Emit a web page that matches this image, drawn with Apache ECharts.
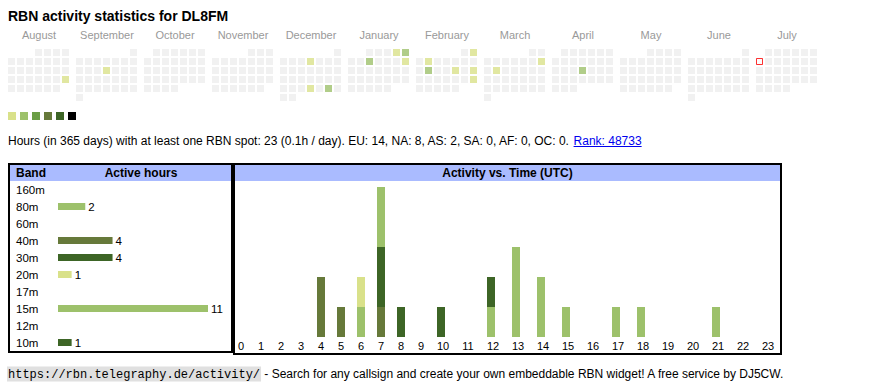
<!DOCTYPE html>
<html><head><meta charset="utf-8">
<script src="https://cdn.jsdelivr.net/npm/echarts@6/dist/echarts.min.js"></script>
<style>html,body{margin:0;padding:0;background:#fff}#c{width:870px;height:390px}</style>
</head><body><div id="c"></div>
<script>
// ---------- data ----------
const calendarMonths = ['2024-08','2024-09','2024-10','2024-11','2024-12','2025-01','2025-02','2025-03','2025-04','2025-05','2025-06','2025-07'];
const monthNames = ['August','September','October','November','December','January','February','March','April','May','June','July'];
const activeDays = ['2024-08-25','2024-09-12','2024-12-05','2024-12-26','2024-12-28','2025-01-04','2025-01-05','2025-01-08','2025-01-12','2025-02-02','2025-02-04','2025-02-11','2025-02-14','2025-02-16','2025-02-23','2025-03-09','2025-03-11','2025-04-17'];
const activeDayHours = [1,1,1,1,2,1,2,2,1,1,1,2,1,1,1,1,1,2];
const todayDate = '2025-07-07';
const levelColors = ['#d9e18a','#9dc16b','#6b9e45','#66793a','#3d6526','#000000'];

const bands = ['160m','80m','60m','40m','30m','20m','17m','15m','12m','10m'];
const bandHours = [0,2,0,4,4,1,0,11,0,1];
const bandColors = ['#6b9e45','#9dc16b','#66793a','#66793a','#3d6526','#d9e18a','#6b9e45','#9dc16b','#66793a','#3d6526'];

const hourLabels = ['0','1','2','3','4','5','6','7','8','9','10','11','12','13','14','15','16','17','18','19','20','21','22','23'];
const hourly160m = [0,0,0,0,0,0,0,0,0,0,0,0,0,0,0,0,0,0,0,0,0,0,0,0];
const hourly80m  = [0,0,0,0,0,0,1,0,0,0,0,0,1,0,0,0,0,0,0,0,0,0,0,0];
const hourly60m  = [0,0,0,0,0,0,0,0,0,0,0,0,0,0,0,0,0,0,0,0,0,0,0,0];
const hourly40m  = [0,0,0,0,2,1,0,1,0,0,0,0,0,0,0,0,0,0,0,0,0,0,0,0];
const hourly30m  = [0,0,0,0,0,0,0,2,1,0,1,0,0,0,0,0,0,0,0,0,0,0,0,0];
const hourly20m  = [0,0,0,0,0,0,1,0,0,0,0,0,0,0,0,0,0,0,0,0,0,0,0,0];
const hourly17m  = [0,0,0,0,0,0,0,0,0,0,0,0,0,0,0,0,0,0,0,0,0,0,0,0];
const hourly15m  = [0,0,0,0,0,0,0,2,0,0,0,0,0,3,2,1,0,1,1,0,0,1,0,0];
const hourly12m  = [0,0,0,0,0,0,0,0,0,0,0,0,0,0,0,0,0,0,0,0,0,0,0,0];
const hourly10m  = [0,0,0,0,0,0,0,0,0,0,0,0,1,0,0,0,0,0,0,0,0,0,0,0];
const hourlyByBand = [hourly160m,hourly80m,hourly60m,hourly40m,hourly30m,hourly20m,hourly17m,hourly15m,hourly12m,hourly10m];

const totalHours = 23;
const perDay = '0.1h / day';
const continents = ['EU','NA','AS','SA','AF','OC'];
const continentHours = [14,8,2,0,0,0];
const rankText = 'Rank: 48733';
const callsign = 'DL8FM';

// ---------- layout ----------
const FONT = 'Arial, "Liberation Sans", sans-serif';
const MONO = '"Liberation Mono", "Courier New", monospace';
const calLeft = i => 7 + 68 * i;
const calTop = 48;

function pad(n){return n < 10 ? '0' + n : '' + n;}
function monthDays(ym){
  const y = +ym.slice(0,4), m = +ym.slice(5,7);
  const n = new Date(Date.UTC(y, m, 0)).getUTCDate();
  const out = [];
  for (let d = 1; d <= n; d++) out.push(ym + '-' + pad(d));
  return out;
}
const activeMap = {};
activeDays.forEach((d,i)=>{activeMap[d] = activeDayHours[i];});

const calendars = calendarMonths.map((ym,i)=>({
  orient:'vertical', range: ym, left: calLeft(i), top: calTop, cellSize:[9,9],
  itemStyle:{color:'transparent', borderWidth:0}, splitLine:{show:false},
  dayLabel:{show:false, firstDay:1}, monthLabel:{show:false}, yearLabel:{show:false}, silent:true
}));

const series = [];
calendarMonths.forEach((ym,i)=>{
  series.push({
    type:'scatter', coordinateSystem:'calendar', calendarIndex:i, symbol:'rect', symbolSize:7, silent:true,
    data: monthDays(ym).map(d=>[d, activeMap[d] || 0])
  });
});
series.push({
  type:'scatter', coordinateSystem:'calendar', calendarIndex:11, symbol:'rect', symbolSize:6, silent:true, z:5,
  itemStyle:{color:'#ffffff', borderColor:'#ff0000', borderWidth:1},
  data:[[todayDate, 0]]
});
// band table
series.push({
  type:'bar', xAxisIndex:0, yAxisIndex:0, barWidth:7, silent:true,
  data: bandHours.map((v,i)=>({value:v, itemStyle:{color:bandColors[i]}})),
  label:{show:true, position:'right', distance:3, fontSize:11.5, fontFamily:FONT, color:'#000',
    formatter:p=> p.value > 0 ? String(p.value) : ''}
});
// hourly stacked bars, two grids (single-digit and two-digit hour columns)
bands.forEach((b,bi)=>{
  series.push({type:'bar', name:b, xAxisIndex:1, yAxisIndex:1, stack:'a', barWidth:8, silent:true,
    itemStyle:{color:bandColors[bi]}, data: hourlyByBand[bi].slice(0,10)});
  series.push({type:'bar', name:b, xAxisIndex:2, yAxisIndex:2, stack:'b', barWidth:8, silent:true,
    itemStyle:{color:bandColors[bi]}, data: hourlyByBand[bi].slice(10)});
});

// ---------- texts ----------
const prefix = 'Hours (in 365 days) with at least one RBN spot: ' + totalHours + ' (' + perDay + '). ' +
  continents.map((c,i)=>c + ': ' + continentHours[i]).join(', ') + '. ';
const mctx = document.createElement('canvas').getContext('2d');
mctx.font = '12px ' + FONT;
const prefixW = mctx.measureText(prefix).width;
const rankW = mctx.measureText(rankText).width;

const graphics = [];
graphics.push({type:'text', style:{text:'RBN activity statistics for ' + callsign, x:8, y:16, fontSize:14, fontWeight:'bold', fontFamily:FONT, fill:'#000', verticalAlign:'middle'}});
monthNames.forEach((n,i)=>graphics.push({type:'text', style:{text:n, x:calLeft(i)+32, y:35, align:'center', verticalAlign:'middle', fontSize:11, fontFamily:FONT, fill:'#999'}}));
graphics.push({type:'text', style:{text:prefix, x:8, y:141, verticalAlign:'middle', fontSize:12, fontFamily:FONT, fill:'#000'}});
graphics.push({type:'text', style:{text:rankText, x:8+prefixW, y:141, verticalAlign:'middle', fontSize:12, fontFamily:FONT, fill:'#0000ee'}});
graphics.push({type:'line', shape:{x1:8+prefixW, y1:146.5, x2:8+prefixW+rankW, y2:146.5}, style:{stroke:'#0000ee', lineWidth:1}});
// table box
graphics.push({type:'rect', shape:{x:10,y:165,width:221,height:16}, style:{fill:'#aabbff'}});
graphics.push({type:'rect', shape:{x:9,y:164,width:223,height:188}, style:{fill:'none', stroke:'#000', lineWidth:2}, z:10});
graphics.push({type:'text', style:{text:'Band', x:16, y:173, verticalAlign:'middle', fontSize:12, fontWeight:'bold', fontFamily:FONT, fill:'#000'}});
graphics.push({type:'text', style:{text:'Active hours', x:141, y:173, align:'center', verticalAlign:'middle', fontSize:12, fontWeight:'bold', fontFamily:FONT, fill:'#000'}});
// activity box
graphics.push({type:'rect', shape:{x:235,y:165,width:545,height:16}, style:{fill:'#aabbff'}});
graphics.push({type:'rect', shape:{x:234,y:164,width:547,height:190}, style:{fill:'none', stroke:'#000', lineWidth:2}, z:10});
graphics.push({type:'text', style:{text:'Activity vs. Time (UTC)', x:507.5, y:173, align:'center', verticalAlign:'middle', fontSize:12, fontWeight:'bold', fontFamily:FONT, fill:'#000'}});
// footer
graphics.push({type:'text', style:{
  text:'{code|https://rbn.telegraphy.de/activity/}{t| - Search for any callsign and create your own embeddable RBN widget! A free service by DJ5CW.}',
  x:7, y:374, verticalAlign:'middle',
  rich:{
    code:{fontFamily:MONO, fontSize:12, color:'#333', backgroundColor:'#e0e0e0', padding:[2,1,1,1]},
    t:{fontFamily:FONT, fontSize:12, color:'#000'}
  }}});

const option = {
  animation:false,
  textStyle:{fontFamily:FONT},
  calendar: calendars,
  visualMap:{
    type:'piecewise', seriesIndex:[0,1,2,3,4,5,6,7,8,9,10,11], orient:'horizontal', left:8, top:112,
    itemWidth:8, itemHeight:8, itemGap:4, showLabel:false, padding:0, itemSymbol:'rect',
    selectedMode:false, hoverLink:false,
    pieces:[{value:1,color:levelColors[0]},{value:2,color:levelColors[1]},{value:3,color:levelColors[2]},
            {value:4,color:levelColors[3]},{value:5,color:levelColors[4]},{gte:6,color:levelColors[5]}],
    outOfRange:{color:'#eeeeee'}
  },
  grid:[
    {left:58, top:181, width:150, height:170},
    {left:231, top:187, width:200, height:150},
    {left:428.5, top:187, width:350, height:150}
  ],
  xAxis:[
    {gridIndex:0, type:'value', min:0, max:11, show:false},
    {gridIndex:1, type:'category', data:hourLabels.slice(0,10), axisLine:{show:false}, axisTick:{show:false},
      axisLabel:{margin:3, fontSize:11, fontFamily:FONT, color:'#000', interval:0}},
    {gridIndex:2, type:'category', data:hourLabels.slice(10), axisLine:{show:false}, axisTick:{show:false},
      axisLabel:{margin:3, fontSize:11, fontFamily:FONT, color:'#000', interval:0, padding:[0,0,0,4]}}
  ],
  yAxis:[
    {gridIndex:0, type:'category', data:bands, inverse:true, axisLine:{show:false}, axisTick:{show:false},
      axisLabel:{align:'left', margin:42, fontSize:11.5, fontFamily:FONT, color:'#000', interval:0}},
    {gridIndex:1, type:'value', min:0, max:5, show:false},
    {gridIndex:2, type:'value', min:0, max:5, show:false}
  ],
  graphic: graphics,
  series: series
};
const chart = echarts.init(document.getElementById('c'), null, {renderer:'svg', width:870, height:390});
chart.setOption(option);
</script>
</body></html>
